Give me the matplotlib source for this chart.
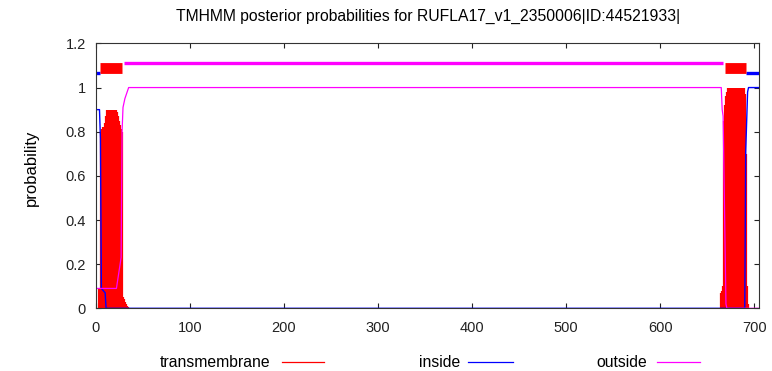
import matplotlib
matplotlib.use("Agg")
from matplotlib import pyplot as plt
from matplotlib.lines import Line2D
import numpy as np

plt.rcParams['font.family'] = ['Liberation Sans', 'DejaVu Sans']

# protein length and transmembrane posterior, per residue
seq_len = 705
tm_left_pos = list(range(4, 35))
tm_left_val = [0.09, 0.09, 0.80, 0.81, 0.82, 0.82, 0.84, 0.87, 0.90, 0.90,
               0.90, 0.90, 0.90, 0.90, 0.90, 0.90, 0.90, 0.90, 0.90, 0.89,
               0.87, 0.85, 0.83, 0.81, 0.80, 0.05, 0.04, 0.03, 0.02, 0.01,
               0.005]
tm_right_pos = list(range(665, 694))
tm_right_val = [0.07, 0.08, 0.10, 0.85, 0.92, 0.96, 0.98, 1.0, 1.0, 1.0,
                1.0, 1.0, 1.0, 1.0, 1.0, 1.0, 1.0, 1.0, 1.0, 1.0,
                1.0, 1.0, 1.0, 1.0, 1.0, 0.97, 0.70, 0.10, 0.02]

# inside / outside curves, breakpoints
inside_pos = [1, 4, 5, 6, 10, 11, 690, 691, 693, 694, 705]
inside_val = [0.90, 0.90, 0.77, 0.09, 0.07, 0.0, 0.0, 0.71, 0.98, 1.0, 1.0]
outside_pos = [1, 22, 27, 28, 29, 31, 35, 665, 666, 667, 669, 670, 671, 705]
outside_val = [0.09, 0.09, 0.23, 0.80, 0.91, 0.95, 1.0, 1.0, 0.90, 0.87, 0.30, 0.02, 0.0, 0.0]

# predicted topology segments (start, end)
inside_segs = [(0, 5), (691, 705)]
tm_segs = [(5, 28), (669, 691)]
outside_segs = [(30, 667)]

RED = '#ff0000'
BLUE = '#0000ff'
MAG = '#ff00ff'

fig = plt.figure(figsize=(7.72, 3.71), dpi=100)
ax = fig.add_axes([0.124, 0.169, 0.859, 0.714])

# impulses for transmembrane
ax.vlines(tm_left_pos + tm_right_pos, 0, tm_left_val + tm_right_val,
          color=RED, lw=1.6)
ax.plot(inside_pos, inside_val, color=BLUE, lw=1.0)
ax.plot(outside_pos, outside_val, color=MAG, lw=0.9)

# topology bars on top
for a, b in inside_segs:
    ax.plot([a, b], [1.067, 1.067], color=BLUE, lw=2.4, solid_capstyle='butt')
for a, b in tm_segs:
    ax.plot([a, b], [1.09, 1.09], color=RED, lw=7.8, solid_capstyle='butt')
for a, b in outside_segs:
    ax.plot([a, b], [1.11, 1.11], color=MAG, lw=2.4, solid_capstyle='butt')

ax.set_xlim(0, seq_len)
ax.set_ylim(0, 1.2)
ax.set_xticks(np.arange(0, 701, 100))
ax.set_yticks([0, 0.2, 0.4, 0.6, 0.8, 1.0, 1.2])
ax.set_yticklabels(['0', '0.2', '0.4', '0.6', '0.8', '1', '1.2'])
ax.tick_params(direction='in', length=3.5, width=0.8, top=True, right=True,
               labelsize=10.5, colors='#222222')
ax.tick_params(axis='x', pad=9)
ax.tick_params(axis='y', pad=7)
for s in ax.spines.values():
    s.set_linewidth(0.8)
    s.set_color('#333333')

fig.text(0.554, 0.957, 'TMHMM posterior probabilities for RUFLA17_v1_2350006|ID:44521933|',
         ha='center', va='center', fontsize=11.3)
fig.text(0.041, 0.547, 'probability', rotation=90, ha='center', va='center', fontsize=12)

# legend along the bottom
leg = [('transmembrane', RED, 0.3506, 0.365, 0.420),
       ('inside', BLUE, 0.5959, 0.6066, 0.6641),
       ('outside', MAG, 0.8385, 0.8506, 0.9067)]
for name, col, tx, x0, x1 in leg:
    fig.text(tx, 0.023, name, ha='right', va='center', fontsize=11.3)
    fig.add_artist(Line2D([x0, x1], [0.023, 0.023], color=col, lw=0.9,
                          transform=fig.transFigure))

fig.savefig('out.png', dpi=100)
